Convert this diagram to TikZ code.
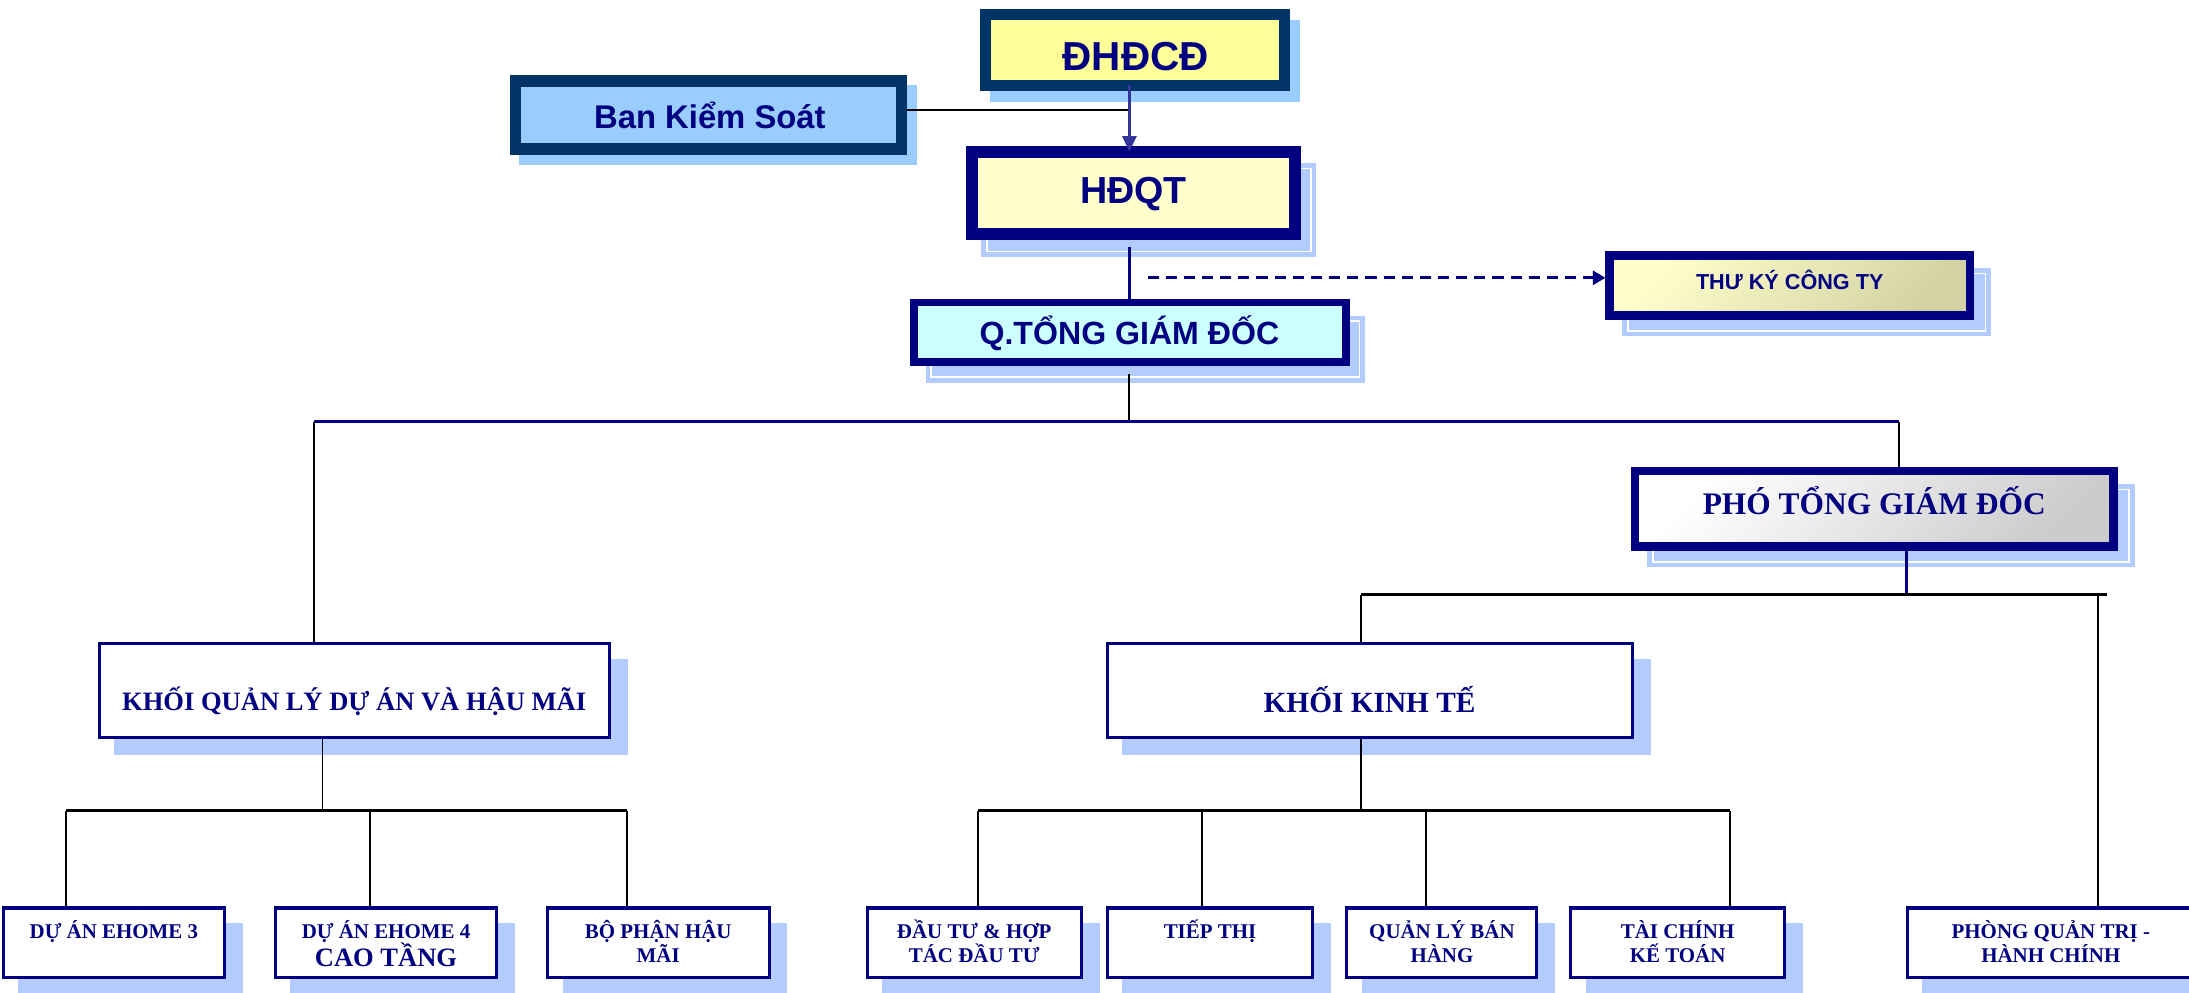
\documentclass[tikz,border=0pt]{standalone}
\usepackage{fontspec}
\setmainfont{Liberation Serif}
\newfontfamily\arialb{Liberation Sans}
\usetikzlibrary{calc,arrows.meta}
\pgfdeclarelayer{bg}
\pgfsetlayers{bg,main}
\definecolor{cnavy}{HTML}{000080}
\definecolor{deepnavy}{HTML}{003366}
\definecolor{midnavy}{HTML}{333399}
\definecolor{cyel}{HTML}{FFFF99}
\definecolor{ltyel}{HTML}{FFFFCC}
\definecolor{ltcyan}{HTML}{CCFFFF}
\definecolor{skyb}{HTML}{99CCFF}
\definecolor{shb}{HTML}{B3CCFF}
\definecolor{khaki}{HTML}{D2D2A4}
\definecolor{greyg}{HTML}{CCCCCC}
\tikzset{
  boxnode/.style={rectangle, inner sep=0pt},
  subbox/.style={boxnode, draw=cnavy, fill=white, line width=2.2pt, outer sep=1.1pt},
  botbox/.style={subbox, minimum height=49.5pt},
  sanstxt/.style={anchor=base, inner sep=0pt, text=cnavy},
  seriftxt/.style={anchor=base, inner sep=0pt, text=cnavy},
  conn/.style={draw=black, line width=1.4pt},
  busline/.style={draw=black, line width=1.8pt},
  navyconn/.style={draw=cnavy, line width=2pt},
  dashconn/.style={draw=cnavy, line width=2pt, dash pattern=on 8pt off 5pt, -{Triangle[length=9pt,width=10pt]}},
  arrowconn/.style={draw=midnavy, line width=2pt, -{Triangle[length=11pt,width=10pt]}, shorten >=-4pt},
}
\newcommand{\mkshadow}[4]{\fill[#4] ($(#1.north west)+(#2,#3)$) rectangle ($(#1.south east)+(#2,#3)$);}
\newcommand{\mkshadoww}[3]{\mkshadow{#1}{#2}{#3}{shb}\draw[white,line width=1pt] ($(#1.north west)+(#2+4,#3+4)$) rectangle ($(#1.south east)+(#2-4,#3-4)$);}
\begin{document}
\begin{tikzpicture}[x=1pt,y=-1pt]
\useasboundingbox (0,0) rectangle (1568,711);

% ---------- boxes ----------
\node[boxnode, draw=deepnavy, fill=cyel, line width=8pt, outer sep=4pt, minimum width=214pt, minimum height=50.5pt] (dhdcd) at (813,35.75) {};
\node[boxnode, draw=deepnavy, fill=skyb, line width=8.5pt, outer sep=4.25pt, minimum width=276.5pt, minimum height=49pt] (bks) at (507.5,82.25) {};
\node[boxnode, draw=cnavy, fill=ltyel, line width=8.5pt, outer sep=4.25pt, minimum width=231.5pt, minimum height=59pt] (hdqt) at (812,138.3) {};
\node[boxnode, draw=cnavy, fill=ltcyan, line width=5.5pt, outer sep=2.75pt, minimum width=309.5pt, minimum height=42.5pt] (qtgd) at (809.5,238) {};
\node[boxnode, draw=cnavy, top color=ltyel, bottom color=khaki, shading angle=45, line width=6pt, outer sep=3pt, minimum width=258pt, minimum height=43pt] (tky) at (1282,204.5) {};
\node[boxnode, draw=cnavy, top color=white, bottom color=greyg, shading angle=45, line width=6pt, outer sep=3pt, minimum width=343pt, minimum height=54pt] (pho) at (1342.5,364.5) {};
\node[subbox, minimum width=365.5pt, minimum height=67.2pt] (kql) at (253.75,494.4) {};
\node[subbox, minimum width=376.5pt, minimum height=67.2pt] (kkt) at (981.35,494.4) {};
\node[botbox, minimum width=158.6pt] (e3) at (81.6,675.15) {};
\node[botbox, minimum width=158.8pt] (e4) at (276.5,675.15) {};
\node[botbox, minimum width=158.8pt] (bp) at (471.5,675.15) {};
\node[botbox, minimum width=153.4pt] (dt) at (697.8,675.15) {};
\node[botbox, minimum width=147.3pt] (tt) at (866.75,675.15) {};
\node[botbox, minimum width=136.1pt] (ql) at (1032.85,675.15) {};
\node[botbox, minimum width=153.1pt] (tc) at (1201.65,675.15) {};
\node[botbox, minimum width=205.8pt] (pq) at (1469,675.15) {};

% ---------- texts ----------
\node[sanstxt, font=\arialb\bfseries\fontsize{29}{34}\selectfont] (tdhdcd) at (813.5,50.6) {ĐHĐCĐ};
\node[sanstxt, font=\arialb\bfseries\fontsize{23.5}{28}\selectfont] (tbks) at (508.5,91.9) {Ban Kiểm Soát};
\node[sanstxt, font=\arialb\bfseries\fontsize{27}{32}\selectfont] (thdqt) at (812,146) {HĐQT};
\node[sanstxt, font=\arialb\bfseries\fontsize{23}{28}\selectfont] (tqtgd) at (809,247) {Q.TỔNG GIÁM ĐỐC};
\node[sanstxt, font=\arialb\bfseries\fontsize{15.5}{19}\selectfont] (ttky) at (1282,207.2) {THƯ KÝ CÔNG TY};
\node[seriftxt, font=\bfseries\fontsize{22.5}{27}\selectfont] (tpho) at (1342.5,368.7) {PHÓ TỔNG GIÁM ĐỐC};
\node[seriftxt, font=\bfseries\fontsize{19}{24}\selectfont] (tkql) at (253.7,508.8) {KHỐI QUẢN LÝ DỰ ÁN VÀ HẬU MÃI};
\node[seriftxt, font=\bfseries\fontsize{21}{25}\selectfont] (tkkt) at (981,510.7) {KHỐI KINH TẾ};
\tikzset{bottxt/.style={seriftxt, font=\bfseries\fontsize{15}{18}\selectfont}}
\node[bottxt] (te3) at (81.6,672) {DỰ ÁN EHOME 3};
\node[bottxt] (te4a) at (276.5,672) {DỰ ÁN EHOME 4};
\node[seriftxt, font=\bfseries\fontsize{19}{22}\selectfont] (te4b) at (276.5,692) {CAO TẦNG};
\node[bottxt] (tbpa) at (471.5,672) {BỘ PHẬN HẬU};
\node[bottxt] (tbpb) at (471.5,689.5) {MÃI};
\node[bottxt] (tdta) at (697.8,672) {ĐẦU TƯ \& HỢP};
\node[bottxt] (tdtb) at (697.8,689.5) {TÁC ĐẦU TƯ};
\node[bottxt] (ttt) at (866.75,672) {TIẾP THỊ};
\node[bottxt] (tqla) at (1032.85,672) {QUẢN LÝ BÁN};
\node[bottxt] (tqlb) at (1032.85,689.5) {HÀNG};
\node[bottxt] (ttca) at (1201.65,672) {TÀI CHÍNH};
\node[bottxt] (ttcb) at (1201.65,689.5) {KẾ TOÁN};
\node[bottxt] (tpqa) at (1469,672) {PHÒNG QUẢN TRỊ -};
\node[bottxt] (tpqb) at (1469,689.5) {HÀNH CHÍNH};

% ---------- shadows and connectors (behind) ----------
\begin{pgfonlayer}{bg}
\mkshadow{dhdcd}{7}{8}{skyb}
\mkshadow{bks}{7}{7.5}{skyb}
\mkshadoww{hdqt}{11}{12}
\mkshadoww{qtgd}{11}{12}
\mkshadoww{tky}{12}{12}
\mkshadoww{pho}{12}{12}
\foreach \b in {kql,kkt,e3,e4,bp,dt,tt,ql,tc,pq}{\mkshadow{\b}{12}{12}{shb}}

\coordinate (jb) at (809,79);
\coordinate (busL) at (225,302);
\coordinate (busM) at (809,302);
\coordinate (busR) at (1360,302);
\coordinate (dstart) at (822,199);
\coordinate (pj) at (1365.5,426);
\coordinate (kL) at (975,426);
\coordinate (kR) at (1509,426);
\coordinate (kP) at (1503,426);
\coordinate (q0) at (231,580.7);
\coordinate (q1) at (47.3,580.7);
\coordinate (q2) at (265,580.7);
\coordinate (q3) at (449,580.7);
\coordinate (k0) at (975,580.7);
\coordinate (k1) at (700.5,580.7);
\coordinate (k2) at (861,580.7);
\coordinate (k3) at (1021.5,580.7);
\coordinate (k4) at (1239,580.7);

\draw[conn] (bks.east |- jb) -- (jb);
\draw[navyconn] (hdqt.south -| busM) ++(0,5) -- (busM |- qtgd.north);
\draw[conn] (qtgd.south -| busM) ++(0,6) -- (busM);
\draw[navyconn] (busL) -- (busR);
\draw[conn] (busL) -- (busL |- kql.north);
\draw[conn] (busR) -- (busR |- pho.north);
\draw[dashconn] (dstart) -- (dstart -| tky.west);
\draw[navyconn] (pj |- pho.south) -- (pj);
\draw[busline] (kL) -- (kR);
\draw[conn] (kL) -- (kL |- kkt.north);
\draw[conn] (kP) -- (kP |- pq.north);
\draw[conn] (q0 |- kql.south) -- (q0);
\draw[busline] (q1) -- (q3);
\draw[conn] (q1) -- (q1 |- e3.north);
\draw[conn] (q2) -- (q2 |- e4.north);
\draw[conn] (q3) -- (q3 |- bp.north);
\draw[conn] (k0 |- kkt.south) -- (k0);
\draw[busline] (k1) -- (k4);
\draw[conn] (k1) -- (k1 |- dt.north);
\draw[conn] (k2) -- (k2 |- tt.north);
\draw[conn] (k3) -- (k3 |- ql.north);
\draw[conn] (k4) -- (k4 |- tc.north);
\end{pgfonlayer}
% arrow from DHDCD to HDQT
\draw[arrowconn] (dhdcd.south -| jb) ++(0,-4) -- (jb |- hdqt.north);
\end{tikzpicture}
\end{document}
